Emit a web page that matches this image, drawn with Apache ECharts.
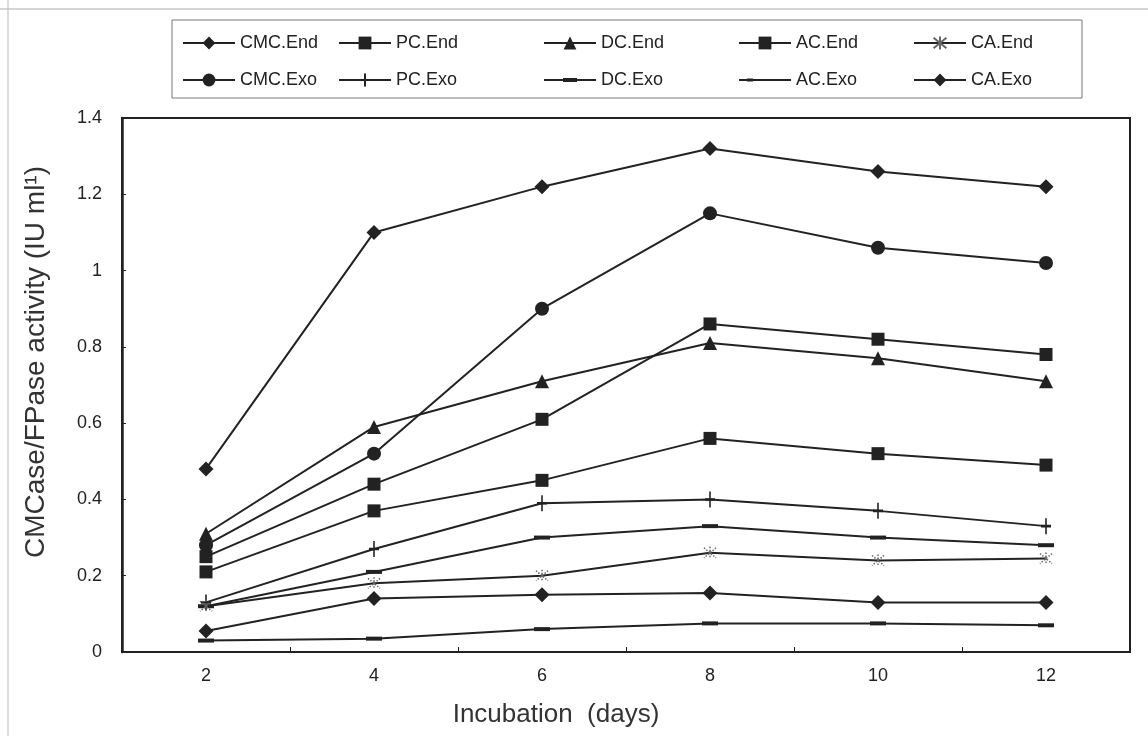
<!DOCTYPE html>
<html>
<head>
<meta charset="utf-8">
<script src="https://cdn.jsdelivr.net/npm/echarts@6/dist/echarts.min.js"></script>
<style>html,body{margin:0;padding:0;background:#fff}#c{width:1148px;height:736px}</style>
</head>
<body>
<div id="c"></div>
<script>
const days = ['2', '4', '6', '8', '10', '12'];
const yTicks = [0, 0.2, 0.4, 0.6, 0.8, 1, 1.2, 1.4];
const cmcEnd = [0.48, 1.10, 1.22, 1.32, 1.26, 1.22];
const cmcExo = [0.28, 0.52, 0.90, 1.15, 1.06, 1.02];
const pcEnd  = [0.25, 0.44, 0.61, 0.86, 0.82, 0.78];
const pcExo  = [0.13, 0.27, 0.39, 0.40, 0.37, 0.33];
const dcEnd  = [0.31, 0.59, 0.71, 0.81, 0.77, 0.71];
const dcExo  = [0.12, 0.21, 0.30, 0.33, 0.30, 0.28];
const acEnd  = [0.21, 0.37, 0.45, 0.56, 0.52, 0.49];
const acExo  = [0.03, 0.035, 0.06, 0.075, 0.075, 0.07];
const caEnd  = [0.12, 0.18, 0.20, 0.26, 0.24, 0.245];
const caExo  = [0.055, 0.14, 0.15, 0.155, 0.13, 0.13];

const INK = '#222';
const FONT = 'Liberation Sans, Arial, sans-serif';
const PLUS = 'path://M5,0L5,16M1,8L9,8';
const AST = 'path://M0,0L10,10M10,0L0,10M5,-1L5,11';
const DASH_ICON = 'path://M0,0M52,16M0,7L19,7L19,6L33,6L33,7L52,7L52,9L33,9L33,10L19,10L19,9L0,9Z';
const DASH_ICON2 = 'path://M0,0M52,16M0,7L8,7L8,6.5L14,6.5L14,7L52,7L52,9L14,9L14,9.5L8,9.5L8,9L0,9Z';

function line(name, data, symbol, size, extra) {
  return Object.assign({
    name: name, type: 'line', data: data,
    symbol: symbol, symbolSize: size, showSymbol: true,
    lineStyle: { color: INK, width: 2 },
    itemStyle: { color: INK },
    z: 3
  }, extra || {});
}

const series = [
  line('CMC.End', cmcEnd, 'diamond', 15),
  line('CMC.Exo', cmcExo, 'circle', 14),
  line('PC.End', pcEnd, 'rect', 13),
  line('PC.Exo', pcExo, PLUS, [10, 16], { itemStyle: { color: 'rgba(0,0,0,0)', borderColor: INK, borderWidth: 2 } }),
  line('DC.End', dcEnd, 'triangle', 14),
  line('DC.Exo', dcExo, 'rect', [16, 4]),
  line('AC.End', acEnd, 'rect', 13),
  line('AC.Exo', acExo, 'rect', [16, 4]),
  line('CA.End', caEnd, AST, 12, { itemStyle: { color: '#fff', borderColor: '#666', borderWidth: 1.5, borderType: 'dotted' } }),
  line('CA.Exo', caExo, 'diamond', 15)
];

const cols = [
  { left: 177, names: ['CMC.End', 'CMC.Exo'] },
  { left: 333, names: ['PC.End', 'PC.Exo'] },
  { left: 538, names: ['DC.End', { name: 'DC.Exo', icon: DASH_ICON }] },
  { left: 733, names: ['AC.End', { name: 'AC.Exo', icon: DASH_ICON2 }] },
  { left: 908, names: ['CA.End', 'CA.Exo'] }
];

const legends = cols.map(c => ({
  orient: 'vertical', left: c.left, top: 29, data: c.names,
  itemWidth: 52, itemHeight: 16, itemGap: 19,
  textStyle: { fontFamily: FONT, fontSize: 18, color: '#222' },
  selectedMode: false
}));

const chart = echarts.init(document.getElementById('c'), null, { renderer: 'canvas' });
chart.setOption({
  animation: false,
  backgroundColor: '#fff',
  grid: { left: 122, right: 18, top: 118, bottom: 84, show: true, borderColor: INK, borderWidth: 2, backgroundColor: 'transparent' },
  legend: legends,
  graphic: [
    { type: 'rect', shape: { x: 172, y: 20, width: 910, height: 78 }, style: { fill: 'none', stroke: '#777', lineWidth: 1 }, z: 0 },
    { type: 'line', shape: { x1: 0, y1: 9, x2: 1148, y2: 9 }, style: { stroke: '#aaa', lineWidth: 1 } },
    { type: 'line', shape: { x1: 8, y1: 0, x2: 8, y2: 736 }, style: { stroke: '#bbb', lineWidth: 1 } }
  ],
  xAxis: {
    type: 'category', data: days, boundaryGap: true,
    name: 'Incubation  (days)', nameLocation: 'middle', nameGap: 50,
    nameTextStyle: { fontFamily: FONT, fontSize: 26, color: '#333', padding: [0, 140, 0, 0] },
    axisLine: { lineStyle: { color: INK, width: 2 } },
    axisTick: { show: true, inside: true, length: 5, lineStyle: { color: INK, width: 1 } },
    axisLabel: { fontFamily: FONT, fontSize: 18, color: '#222', margin: 15 },
    splitLine: { show: false }
  },
  yAxis: {
    type: 'value', min: yTicks[0], max: yTicks[yTicks.length - 1], interval: 0.2,
    name: 'CMCase/FPase activity (IU ml¹)', nameLocation: 'middle', nameGap: 72,
    nameTextStyle: { fontFamily: FONT, fontSize: 28, color: '#333', padding: [0, 0, 0, 46] },
    axisLine: { show: true, lineStyle: { color: INK, width: 2.5 } },
    axisTick: { show: true, inside: true, length: 4, lineStyle: { color: INK } },
    axisLabel: { fontFamily: FONT, fontSize: 18, color: '#222', margin: 20,
      formatter: v => String(+v.toFixed(1)) },
    splitLine: { show: false }
  },
  series: series
});
</script>
</body>
</html>
